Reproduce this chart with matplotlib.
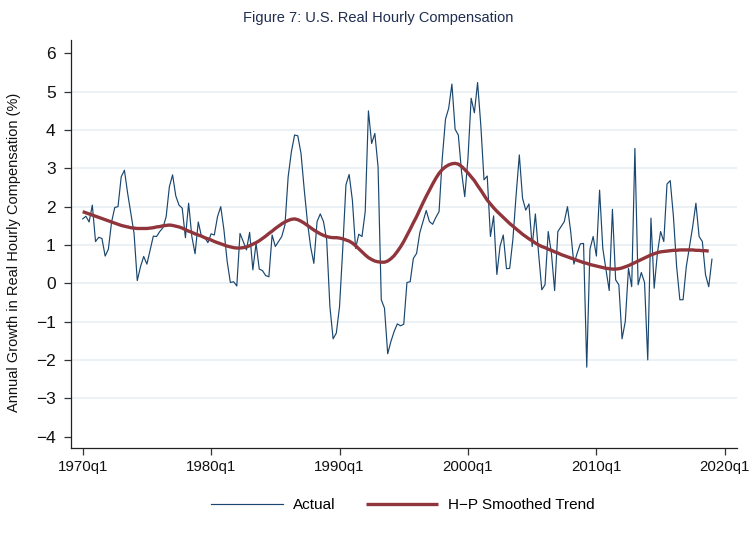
import matplotlib
matplotlib.use("Agg")
import matplotlib.pyplot as plt
import numpy as np

plt.rcParams['font.family'] = ['Liberation Sans', 'DejaVu Sans']

start_year = 1970
actual = [
    1.68, 1.75, 1.60, 2.04, 1.09, 1.20, 1.17, 0.71, 0.89, 1.60,
    1.98, 2.00, 2.78, 2.95, 2.35, 1.83, 1.30, 0.07, 0.43, 0.70,
    0.50, 0.87, 1.23, 1.22, 1.35, 1.45, 1.74, 2.52, 2.83, 2.28,
    2.04, 1.96, 1.19, 2.09, 1.22, 0.77, 1.60, 1.22, 1.20, 1.06,
    1.29, 1.26, 1.74, 2.00, 1.39, 0.57, 0.02, 0.04, -0.07, 1.30,
    1.09, 0.87, 1.33, 0.35, 1.04, 0.37, 0.33, 0.20, 0.17, 1.26,
    0.96, 1.09, 1.22, 1.52, 2.78, 3.43, 3.87, 3.85, 3.39, 2.45,
    1.60, 0.95, 0.52, 1.61, 1.81, 1.61, 1.13, -0.61, -1.45, -1.30,
    -0.61, 0.90, 2.57, 2.84, 2.17, 0.91, 1.28, 1.22, 1.87, 4.50,
    3.65, 3.91, 3.04, -0.43, -0.65, -1.84, -1.52, -1.26, -1.06, -1.11,
    -1.07, 0.02, 0.04, 0.65, 0.78, 1.32, 1.61, 1.90, 1.61, 1.54,
    1.72, 1.87, 3.26, 4.28, 4.57, 5.20, 4.02, 3.87, 2.91, 2.26,
    3.26, 4.83, 4.45, 5.24, 4.13, 2.70, 2.80, 1.22, 1.76, 0.23,
    0.97, 1.26, 0.38, 0.39, 1.15, 2.30, 3.35, 2.22, 1.91, 2.07,
    0.96, 1.81, 0.78, -0.17, -0.04, 1.35, 0.78, -0.19, 1.35, 1.48,
    1.61, 2.00, 1.35, 0.50, 0.78, 1.03, 1.04, -2.19, 0.89, 1.22,
    0.71, 2.43, 0.91, 0.35, -0.19, 1.93, 0.09, -0.04, -1.45, -1.00,
    0.39, -0.09, 3.52, -0.04, 0.28, 0.02, -2.00, 1.70, -0.13, 0.78,
    1.35, 1.09, 2.59, 2.68, 1.74, 0.43, -0.43, -0.43, 0.43, 0.96,
    1.48, 2.09, 1.22, 1.09, 0.22, -0.09, 0.63,
]
trend = [
    1.87, 1.84, 1.81, 1.78, 1.75, 1.72, 1.69, 1.66, 1.63, 1.60,
    1.57, 1.54, 1.51, 1.49, 1.47, 1.45, 1.44, 1.43, 1.43, 1.43,
    1.43, 1.44, 1.45, 1.47, 1.48, 1.50, 1.51, 1.52, 1.51, 1.49,
    1.47, 1.44, 1.40, 1.36, 1.33, 1.29, 1.26, 1.23, 1.19, 1.16,
    1.13, 1.09, 1.06, 1.03, 1.00, 0.97, 0.95, 0.93, 0.92, 0.92,
    0.93, 0.95, 0.98, 1.02, 1.06, 1.11, 1.17, 1.23, 1.30, 1.36,
    1.43, 1.49, 1.55, 1.60, 1.64, 1.67, 1.68, 1.66, 1.62, 1.57,
    1.51, 1.45, 1.39, 1.34, 1.29, 1.25, 1.22, 1.20, 1.19, 1.19,
    1.18, 1.16, 1.13, 1.10, 1.05, 0.98, 0.90, 0.82, 0.74, 0.67,
    0.62, 0.58, 0.56, 0.55, 0.55, 0.58, 0.64, 0.72, 0.83, 0.95,
    1.09, 1.25, 1.41, 1.58, 1.74, 1.92, 2.10, 2.27, 2.43, 2.59,
    2.74, 2.87, 2.97, 3.04, 3.09, 3.12, 3.13, 3.11, 3.05, 2.97,
    2.88, 2.78, 2.68, 2.55, 2.43, 2.30, 2.17, 2.07, 1.97, 1.88,
    1.80, 1.72, 1.64, 1.56, 1.49, 1.42, 1.35, 1.28, 1.22, 1.16,
    1.11, 1.05, 1.00, 0.96, 0.93, 0.89, 0.86, 0.82, 0.79, 0.75,
    0.72, 0.69, 0.66, 0.63, 0.60, 0.57, 0.54, 0.52, 0.49, 0.47,
    0.45, 0.43, 0.41, 0.39, 0.38, 0.37, 0.37, 0.38, 0.40, 0.43,
    0.46, 0.50, 0.54, 0.58, 0.62, 0.66, 0.70, 0.74, 0.77, 0.80,
    0.82, 0.83, 0.84, 0.85, 0.86, 0.86, 0.87, 0.87, 0.87, 0.87,
    0.87, 0.86, 0.86, 0.85, 0.85, 0.84,
]
xtick_years = [1970, 1980, 1990, 2000, 2010, 2020]
xtick_labels = ["1970q1", "1980q1", "1990q1", "2000q1", "2010q1", "2020q1"]
ytick_values = [-4, -3, -2, -1, 0, 1, 2, 3, 4, 5, 6]

x_act = start_year + np.arange(len(actual)) / 4.0
x_tr = start_year + np.arange(len(trend)) / 4.0

W, H = 756, 549
fig = plt.figure(figsize=(W / 100, H / 100), dpi=100)
fig.patch.set_facecolor('white')
left, right, top, bottom = 71, 737, 40, 448
ax = fig.add_axes([left / W, 1 - bottom / H, (right - left) / W, (bottom - top) / H])

navy = '#1a476f'
maroon = '#90353b'
grid_c = '#e6eef3'

for v in ytick_values[1:-1]:
    ax.axhline(v, color=grid_c, lw=1.1, zorder=0)

ax.plot(x_act, actual, color=navy, lw=0.85, label='Actual', zorder=3)
ax.plot(x_tr, trend, color=maroon, lw=2.4, label='H\u2212P Smoothed Trend', zorder=4,
        solid_capstyle='butt')

ax.set_xlim(1969.09, 2020.95)
ax.set_ylim(-4.30, 6.35)
ax.set_xticks(xtick_years)
ax.set_xticklabels(xtick_labels, fontsize=10.8)
ax.set_yticks(ytick_values)
ax.set_yticklabels([str(v).replace('-', '\u2212') for v in ytick_values], fontsize=12.5)
for s in ['top', 'right']:
    ax.spines[s].set_visible(False)
for s in ['left', 'bottom']:
    ax.spines[s].set_color('#222222')
    ax.spines[s].set_linewidth(0.9)
ax.tick_params(axis='both', direction='out', length=5, width=0.9, color='#333333',
               labelcolor='#111111')
ax.tick_params(axis='y', pad=6)
ax.tick_params(axis='x', pad=4)

fig.text(14 / W, 1 - 252 / H, 'Annual Growth in Real Hourly Compensation (%)',
         rotation=90, ha='center', va='center', fontsize=10.5, color='#111111')
fig.text(0.5, 1 - 18 / H, 'Figure 7: U.S. Real Hourly Compensation',
         ha='center', va='center', fontsize=10.5, color='#1e2d4f')

handles, labels = ax.get_legend_handles_labels()
fig.legend(handles, labels, loc='center', bbox_to_anchor=(403 / W, 1 - 505 / H),
           ncol=2, frameon=False, fontsize=11, handlelength=4.7, handletextpad=0.65,
           columnspacing=2.0)

fig.savefig('out.png', dpi=100, facecolor='white')
